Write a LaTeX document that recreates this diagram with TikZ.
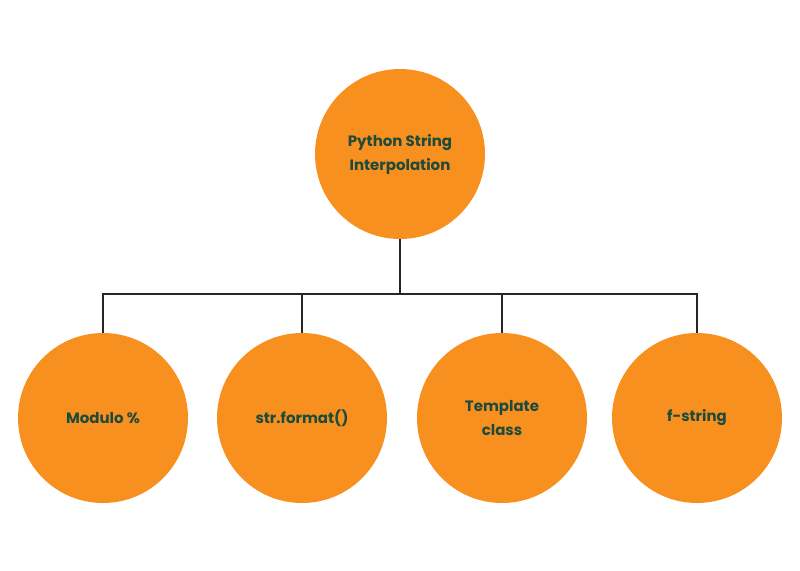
\documentclass[tikz,border=0pt]{standalone}
\usepackage{fontspec}
\setmainfont{Poppins}
\definecolor{orng}{HTML}{F7901E}
\definecolor{txt}{HTML}{1E4A3C}
\begin{document}
\begin{tikzpicture}[x=1pt,y=-1pt,
  bubble/.style={circle,fill=orng,minimum size=170pt,inner sep=0pt,align=center,text=txt,font=\bfseries\fontsize{15}{24}\selectfont},
  link/.style={draw=black!85,line width=1.2pt}]
\useasboundingbox (0,0) rectangle (800,570);
\node[bubble] (root) at (400,154) {Python String\\Interpolation};
\node[bubble] (a) at (103,418) {Modulo \%};
\node[bubble] (b) at (302,418) {str.format()};
\node[bubble] (c) at (502,418) {Template\\class};
\node[bubble] (d) at (697,418) {f-string};
\coordinate (j) at (400,294);
\draw[link] (root.south) -- (j);
\draw[link] (a.north) |- (j) -| (d.north);
\draw[link] (b.north) -- (b.north |- j);
\draw[link] (c.north) -- (c.north |- j);
\end{tikzpicture}
\end{document}
